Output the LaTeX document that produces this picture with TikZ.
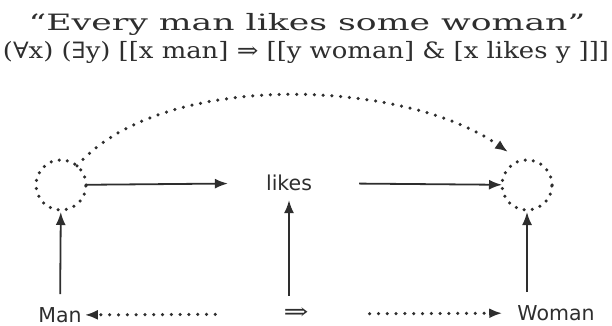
\documentclass[tikz,border=0pt]{standalone}
\usepackage{fontspec}
\usetikzlibrary{arrows.meta}
\newfontfamily\titlefont{DejaVu Serif}
\newfontfamily\labelfont{DejaVu Sans}
\definecolor{ink}{HTML}{2E2E2E}
\begin{document}
\begin{tikzpicture}[x=1pt,y=-1pt,
  tip/.style={-{Latex[length=13pt,width=10pt]}},
  solidarrow/.style={draw=ink, line width=1.8pt, tip},
  dotline/.style={draw=ink, line width=3.5pt, line cap=round, dash pattern=on 0pt off 8.8pt},
  dotarrow/.style={dotline, tip},
  ring/.style={circle, minimum size=50pt, inner sep=0pt, outer sep=0pt, dotline, dash pattern=on 0pt off 8.2pt},
  lab/.style={font=\labelfont\fontsize{20.5}{24}\selectfont, text=ink, inner sep=1pt},
  ttl/.style={font=\titlefont\fontsize{22.5}{26}\selectfont, text=ink, inner sep=0pt}
]
\useasboundingbox (0,0) rectangle (612,326);
\node[ttl] (t1) at (307,24) {\scalebox{1.54}[1]{“Every man likes some woman”}};
\node[ttl] (t2) at (306,52) {\resizebox{606pt}{\height}{(∀x) (∃y) [[x man] ⇒ [[y woman] \& [x likes y ]]]}};
\node[ring] (L) at (61,185) {};
\node[ring] (R) at (527,185) {};
\node[lab] (likes) at (289,183) {likes};
\node[lab] (man) at (60,315) {Man};
\node[lab] (woman) at (556,313) {Woman};
\node[ttl] (imp) at (296,314) {\resizebox{25pt}{\height}{⇒}};
\coordinate (arctip) at (508,152);
% solid arrows
\draw[solidarrow, shorten >=37pt] (L) -- (likes);
\draw[solidarrow, shorten <=46pt] (likes) -- (R);
\draw[solidarrow, shorten <=12pt, shorten >=2pt] (man) -- (L);
\draw[solidarrow, shorten <=12pt, shorten >=2pt] (woman.north -| R) -- (R);
\draw[solidarrow, shorten <=12pt, shorten >=8pt] (imp.north -| likes) -- (likes);
% dotted arrows
\draw[dotarrow] (L.50) .. controls (160,70) and (403,78) .. (arctip);
\draw[dotarrow, shorten <=68pt, shorten >=2pt] (imp) -- (man);
\draw[dotarrow, shorten <=61pt, shorten >=14pt] (imp) -- (woman);
\end{tikzpicture}
\end{document}
